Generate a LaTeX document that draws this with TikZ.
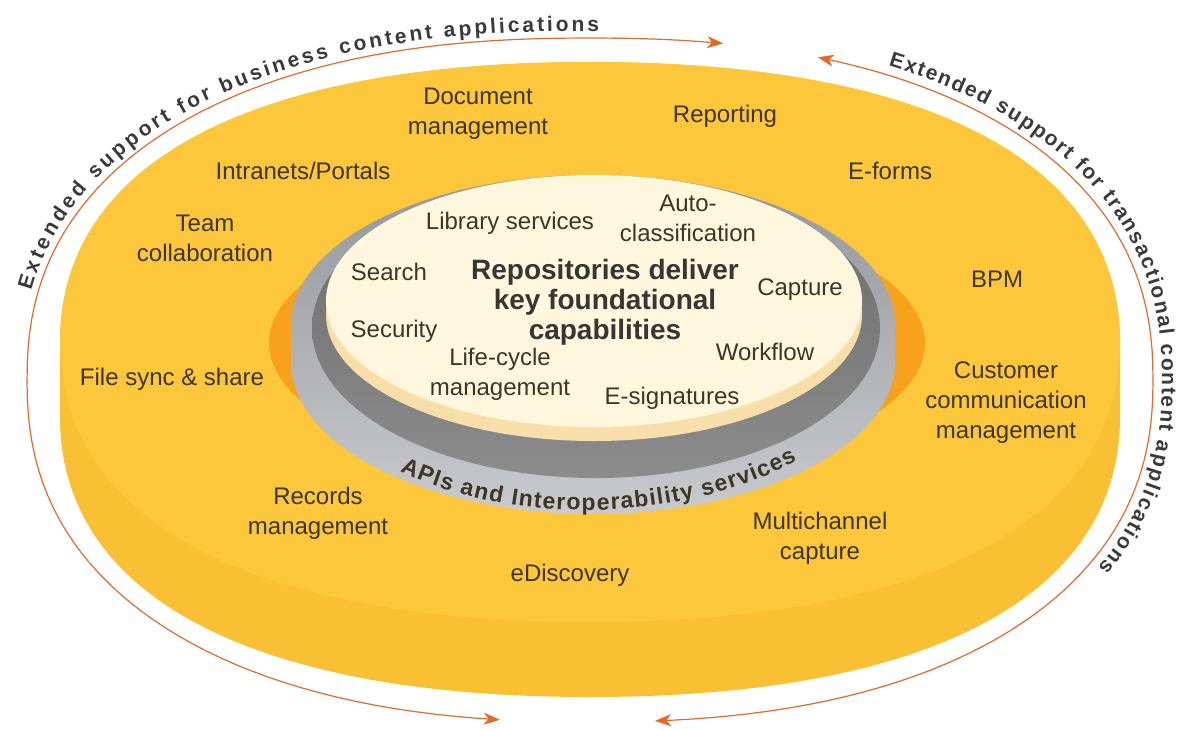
\documentclass[tikz,border=0pt]{standalone}
\usepackage{fontspec}
\setmainfont{Liberation Sans}
\usetikzlibrary{arrows.meta,decorations.text}
\definecolor{yeltop}{HTML}{FCC73B}
\definecolor{yelside}{HTML}{F9C034}
\definecolor{orng}{HTML}{F8A11C}
\definecolor{arrowc}{HTML}{E26A2C}
\definecolor{cream}{HTML}{FEF7DE}
\definecolor{beige}{HTML}{F8DFAA}
\definecolor{lgtop}{HTML}{95969A}
\definecolor{lgbot}{HTML}{C8CACE}
\definecolor{dgtop}{HTML}{6A6A6B}
\definecolor{dgbot}{HTML}{8C8C8C}
\definecolor{txt}{HTML}{3D3526}
\definecolor{titletxt}{HTML}{383634}
\definecolor{arctxt}{HTML}{3A3A3A}
\begin{document}
\begin{tikzpicture}[x=1pt,y=-1pt,
  declare function={
    sqc(\t)=cos(\t)*exp(-0.13*ln(abs(cos(\t))+0.0001));
    sqs(\t)=sin(\t)*exp(-0.13*ln(abs(sin(\t))+0.0001));
  },
  lbl/.style={text=txt, align=center, font=\fontsize{24}{30}\selectfont, inner sep=0pt},
  ttl/.style={text=titletxt, align=center, font=\bfseries\fontsize{28}{30}\selectfont, inner sep=0pt},
  arcarrow/.style={draw=arrowc, line width=1.2pt,
    {Stealth[length=16pt,width=12pt,inset=4.5pt]}-{Stealth[length=16pt,width=12pt,inset=4.5pt]}},
  arctext/.style={decorate, decoration={text along path, text align={fit to path}, raise=#1, text color=arctxt}},
]
\useasboundingbox (0,0) rectangle (1186,729);

% outer disc (side + top face)
\fill[yelside] (1120,342) .. controls (1120,163) and (929,62) .. (590,62)
  .. controls (251,62) and (60,163) .. (60,342) -- (60,417)
  .. controls (60,596) and (251,697) .. (590,697)
  .. controls (929,697) and (1120,596) .. (1120,417) -- cycle;
\fill[yeltop] (1120,342) .. controls (1120,163) and (929,62) .. (590,62)
  .. controls (251,62) and (60,163) .. (60,342)
  .. controls (60,521) and (251,622) .. (590,622)
  .. controls (929,622) and (1120,521) .. (1120,342) -- cycle;

% orange recess
\fill[orng] (597,343) ellipse[x radius=328pt, y radius=134pt];
% gray cylinder wall
\shade[top color=lgtop, bottom color=lgbot] (291,325)
  arc[start angle=180, end angle=0, x radius=302pt, y radius=150pt] -- (895,362)
  arc[start angle=0, end angle=-180, x radius=302pt, y radius=152pt] -- cycle;
\shade[top color=dgtop, bottom color=dgbot] (596,328) ellipse[x radius=284pt, y radius=150pt];
\fill[beige] (594,315) ellipse[x radius=268pt, y radius=126pt];
\fill[cream] (594,301) ellipse[x radius=268pt, y radius=126pt];

% arrows around
\draw[arcarrow] plot[domain=97:281, samples=90, variable=\t] ({590+563*sqc(\t)},{380+342*sqs(\t)});
\draw[arcarrow] plot[domain=290.7:445.2, samples=90, variable=\t] ({590+563*sqc(\t)},{380+342*sqs(\t)});

% curved texts
\path[arctext=7pt, decoration={text={|\bfseries\fontsize{21}{24}\selectfont|Extended support for business content applications}}]
  plot[domain=192:270.5, samples=60, variable=\t] ({590+563*sqc(\t)},{380+342*sqs(\t)});
\path[arctext=9pt, decoration={text={|\bfseries\fontsize{21}{24}\selectfont|Extended support for transactional content applications}}]
  plot[domain=298.5:389, samples=60, variable=\t] ({590+563*sqc(\t)},{380+342*sqs(\t)});
\path[decorate, decoration={text along path, text align={fit to path}, text color=txt,
  text={|\bfseries\fontsize{23}{24}\selectfont|APIs and Interoperability services}}]
  plot[domain=46.4:132.8, samples=50, variable=\t] ({600-290*cos(\t)},{347+163*sin(\t)+0.03*290*cos(\t)});

% outer ring labels
\node[lbl] (docm) at (478,114) {Document\\management};
\node[lbl] (rep) at (725,116) {Reporting};
\node[lbl] (intra) at (303,171) {Intranets/Portals};
\node[lbl] (eforms) at (890,171) {E-forms};
\node[lbl] (team) at (205,238) {Team\\collaboration};
\node[lbl] (bpm) at (997,279) {BPM};
\node[lbl] (fss) at (172,379) {File sync \& share};
\node[lbl] (ccm) at (1006,403) {Customer\\communication\\management};
\node[lbl] (rec) at (318,513) {Records\\management};
\node[lbl] (edisc) at (570,575) {eDiscovery};
\node[lbl] (multi) at (820,538) {Multichannel\\capture};

% inner labels
\node[lbl] (lib) at (510,223) {Library services};
\node[lbl] (auto) at (688,218) {Auto-\\classification};
\node[lbl] (search) at (389,272) {Search};
\node[ttl] (title) at (605,302) {Repositories deliver\\key foundational\\capabilities};
\node[lbl] (capt) at (800,290) {Capture};
\node[lbl] (sec) at (394,331) {Security};
\node[lbl] (wf) at (765,352) {Workflow};
\node[lbl] (lcm) at (500,374) {Life-cycle\\management};
\node[lbl] (esig) at (672,398) {E-signatures};
\end{tikzpicture}
\end{document}
